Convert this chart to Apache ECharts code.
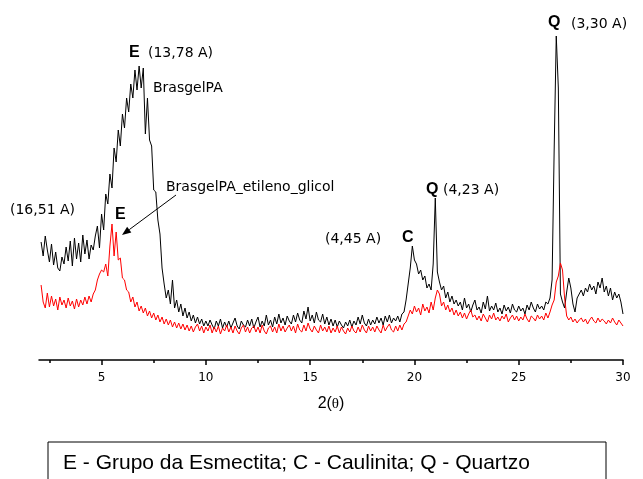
<!DOCTYPE html>
<html>
<head>
<meta charset="utf-8">
<style>
  html, body { margin: 0; padding: 0; background: #fff; }
  #chart { width: 643px; height: 479px; }
</style>
<script src="https://cdn.jsdelivr.net/npm/echarts@6/dist/echarts.min.js"></script>
</head>
<body>
<div id="chart"></div>
<script>
// 2θ sampled every 0.1 degree, from 2.1 to 30.0
const twoTheta = [];
for (let i = 0; i < 280; i++) twoTheta.push(Math.round((2.1 + i * 0.1) * 10) / 10);

// BrasgelPA (black), intensity
const brasgelPA = [
  118, 104, 124, 110, 98, 116, 95, 108, 92, 89,
  103, 96, 113, 99, 119, 94, 122, 101, 117, 98,
  125, 106, 120, 101, 115, 110, 124, 134, 112, 146,
  130, 166, 156, 186, 172, 212, 198, 230, 214, 246,
  232, 262, 248, 276, 262, 290, 270, 294, 272, 292,
  226, 262, 220, 214, 170, 168, 140, 126, 92, 76,
  62, 70, 56, 80, 52, 60, 48, 56, 44, 52,
  42, 48, 39, 45, 37, 43, 36, 41, 34, 39,
  34, 40, 35, 31, 39, 34, 41, 32, 38, 33,
  39, 32, 37, 42, 34, 31, 39, 35, 33, 40,
  34, 41, 32, 38, 43, 33, 39, 34, 45, 35,
  40, 33, 43, 36, 46, 37, 42, 35, 44, 39,
  36, 45, 38, 47, 40, 37, 49, 41, 53, 39,
  45, 37, 48, 40, 38, 46, 36, 43, 35, 41,
  34, 40, 33, 39, 35, 32, 38, 34, 40, 33,
  39, 35, 43, 36, 45, 37, 34, 41, 35, 40,
  36, 43, 37, 42, 35, 44, 38, 45, 37, 42,
  39, 44, 38, 46, 48, 60, 76, 92, 114, 100,
  96, 86, 90, 80, 84, 72, 76, 70, 96, 162,
  88, 78, 70, 74, 62, 68, 58, 64, 56, 60,
  54, 58, 50, 62, 52, 56, 48, 55, 60, 50,
  53, 47, 58, 51, 64, 49, 54, 50, 57, 48,
  52, 46, 55, 49, 53, 47, 56, 50, 48, 54,
  49, 52, 46, 55, 50, 58, 52, 48, 56, 51,
  54, 50, 58, 56, 62, 80, 210, 324, 272, 66,
  58, 52, 68, 82, 72, 56, 48, 62, 66, 70,
  64, 72, 68, 76, 70, 74, 66, 78, 72, 82,
  68, 74, 64, 72, 60, 68, 62, 66, 58, 46
];

// BrasgelPA_etileno_glicol (red)
const brasgelPAGlicol = [
  75, 58, 52, 67, 53, 64, 54, 61, 50, 63,
  55, 60, 52, 62, 54, 59, 51, 61, 53, 60,
  55, 63, 56, 64, 58, 66, 70, 80, 86, 90,
  88, 96, 84, 114, 136, 104, 128, 100, 102, 82,
  80, 70, 68, 58, 63, 53, 58, 49, 54, 47,
  52, 44, 49, 42, 47, 40, 45, 38, 43, 36,
  41, 35, 40, 33, 38, 32, 37, 31, 36, 30,
  35, 29, 34, 28, 33, 36, 29, 34, 27, 33,
  29, 35, 27, 33, 28, 34, 26, 32, 29, 35,
  28, 33, 27, 34, 29, 26, 32, 35, 28, 33,
  27, 32, 34, 28, 33, 27, 35, 29, 26, 32,
  34, 28, 33, 27, 36, 29, 34, 28, 32, 35,
  29, 34, 27, 36, 30, 28, 35, 29, 37, 31,
  28, 34, 30, 27, 35, 29, 33, 28, 34, 27,
  32, 28, 34, 27, 33, 29, 26, 32, 28, 34,
  29, 27, 33, 28, 35, 30, 27, 34, 29, 33,
  28, 34, 30, 27, 35, 29, 33, 36, 30, 28,
  34, 29, 35, 30, 36, 38, 44, 50, 46, 54,
  48, 52, 45, 56, 49, 53, 47, 58, 50, 62,
  70, 66, 54, 58, 50, 55, 48, 52, 45, 50,
  44, 48, 42, 47, 41, 46, 50, 43, 45, 40,
  44, 39, 46, 42, 38, 45, 41, 47, 40, 43,
  39, 44, 41, 46, 38, 42, 45, 40, 44, 39,
  43, 40, 46, 41, 38, 44, 42, 39, 45, 41,
  44, 40, 47, 42, 48, 55, 60, 78, 84, 97,
  90, 62, 44, 40, 43, 38, 41, 37, 40, 42,
  38, 41, 36, 40, 43, 39, 37, 42, 38, 41,
  39, 36, 40, 37, 42, 38, 35, 40, 37, 34
];

const tickValues = [5, 10, 15, 20, 25, 30];

const chart = echarts.init(document.getElementById('chart'));

const annoFont = 'DejaVu Sans';
const boldFont = 'Liberation Sans';

function label(x, y, text, bold) {
  return {
    type: 'text',
    x: x,
    y: y,
    style: {
      text: text,
      fill: '#000',
      font: bold ? 'bold 16px ' + boldFont : '14px ' + annoFont,
      verticalAlign: 'middle'
    },
    z: 10
  };
}

// arrow pointing to the red E peak
const arrowFrom = [176, 195];
const arrowTo = [122, 235];
const dx = arrowTo[0] - arrowFrom[0], dy = arrowTo[1] - arrowFrom[1];
const len = Math.sqrt(dx * dx + dy * dy);
const ux = dx / len, uy = dy / len;
const bx = arrowTo[0] - ux * 9, by = arrowTo[1] - uy * 9;

const option = {
  animation: false,
  backgroundColor: '#fff',
  grid: { left: 39, right: 20, top: 20, bottom: 119 },
  xAxis: {
    type: 'value',
    min: 2,
    max: 30,
    axisLine: { show: true, lineStyle: { color: '#000', width: 1.5 } },
    axisTick: { show: true, length: 5, customValues: tickValues, lineStyle: { color: '#000', width: 1.5 } },
    minorTick: { show: true, splitNumber: 2, length: 3, lineStyle: { color: '#000', width: 1.5 } },
    axisLabel: {
      customValues: tickValues,
      color: '#000',
      fontSize: 12,
      fontFamily: 'DejaVu Sans',
      margin: 12
    },
    splitLine: { show: false }
  },
  yAxis: {
    type: 'value',
    min: 0,
    max: 340,
    show: false
  },
  series: [
    {
      name: 'BrasgelPA',
      type: 'line',
      data: twoTheta.map((t, i) => [t, brasgelPA[i]]),
      showSymbol: false,
      lineStyle: { color: '#000', width: 1 }
    },
    {
      name: 'BrasgelPA_etileno_glicol',
      type: 'line',
      data: twoTheta.map((t, i) => [t, brasgelPAGlicol[i]]),
      showSymbol: false,
      lineStyle: { color: '#ff0000', width: 1 }
    }
  ],
  graphic: [
    label(129, 53, 'E', true),
    label(148, 53, '(13,78 A)'),
    label(153, 88, 'BrasgelPA'),
    label(166, 187, 'BrasgelPA_etileno_glicol'),
    label(10, 210, '(16,51 A)'),
    label(115, 215, 'E', true),
    label(325, 239, '(4,45 A)'),
    label(402, 238, 'C', true),
    label(426, 190, 'Q', true),
    label(443, 190, '(4,23 A)'),
    label(548, 23, 'Q', true),
    label(571, 24, '(3,30 A)'),
    {
      type: 'line',
      shape: { x1: arrowFrom[0], y1: arrowFrom[1], x2: bx, y2: by },
      style: { stroke: '#000', lineWidth: 1 },
      z: 10
    },
    {
      type: 'polygon',
      shape: {
        points: [
          arrowTo,
          [bx - uy * 3.5, by + ux * 3.5],
          [bx + uy * 3.5, by - ux * 3.5]
        ]
      },
      style: { fill: '#000' },
      z: 10
    },
    {
      type: 'text',
      x: 331,
      y: 404,
      style: {
        text: '{a|2(}{b|θ}{a|)}',
        rich: {
          a: { fontSize: 16, fontFamily: 'Liberation Sans', fill: '#000' },
          b: { fontSize: 15, fontFamily: 'Liberation Serif', fill: '#000' }
        },
        align: 'center',
        verticalAlign: 'middle'
      }
    },
    {
      type: 'rect',
      shape: { x: 48, y: 442, width: 558, height: 60 },
      style: { fill: 'none', stroke: '#000', lineWidth: 1 }
    },
    {
      type: 'text',
      x: 63,
      y: 463,
      style: {
        text: 'E - Grupo da Esmectita; C - Caulinita; Q - Quartzo',
        font: '21px Liberation Sans',
        fill: '#000',
        verticalAlign: 'middle'
      }
    }
  ]
};

chart.setOption(option);
</script>
</body>
</html>
